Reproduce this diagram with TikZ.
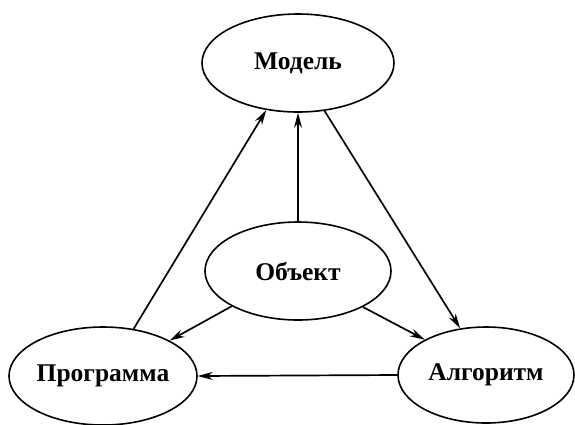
\documentclass[tikz,border=0pt]{standalone}
\usepackage{fontspec}
\setmainfont{Liberation Serif}
\usetikzlibrary{shapes.geometric,arrows.meta}
\begin{document}
\begin{tikzpicture}[x=1pt, y=-1pt,
    ell/.style={ellipse, draw, line width=1.6pt, inner sep=0pt,
      font=\fontsize{25.5}{30}\selectfont\bfseries},
    arr/.style={-{Stealth[length=15pt, width=8pt]}, line width=1.7pt}]
      \useasboundingbox (0,0) rectangle (575,424);
      % Schema
      \node[ell, minimum width=192pt, minimum height=98pt] (mod) at (298,63) {Модель};
      \node[ell, minimum width=186pt, minimum height=98pt] (obj) at (298,271) {Объект};
      \node[ell, minimum width=188pt, minimum height=98pt] (prog) at (103,376) {Программа};
      \node[ell, minimum width=176pt, minimum height=96pt] (alg) at (486,375) {Алгоритм};
      \draw[arr] (prog.57) -- (mod.236);
      \draw[arr] (obj.north) -- (mod.south);
      \draw[arr] (mod.299) -- (alg.119);
      \draw[arr] (obj.208) -- (prog.28);
      \draw[arr] (obj.331) -- (alg.150);
      \draw[arr] (alg.west) -- (prog.east);
\end{tikzpicture}
\end{document}
